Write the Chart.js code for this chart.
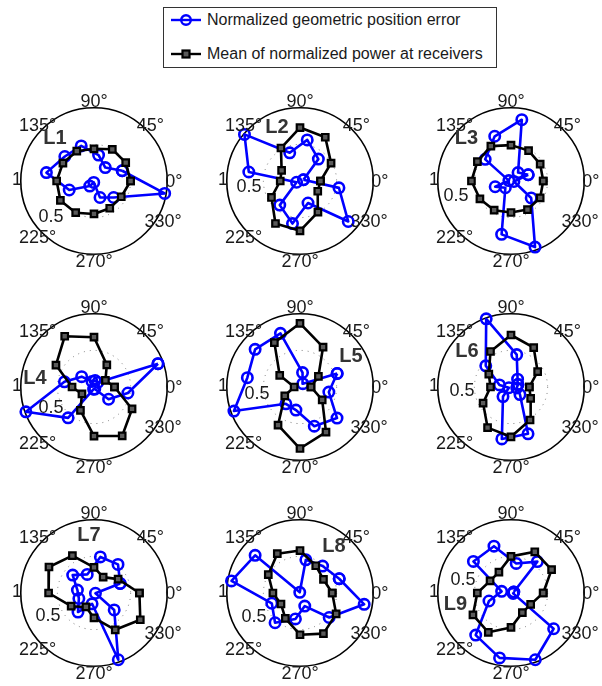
<!DOCTYPE html>
<html>
<head>
<meta charset="utf-8">
<script src="https://cdn.jsdelivr.net/npm/chart.js@4.4.1/dist/chart.umd.min.js"></script>
<style>
  html, body { margin: 0; padding: 0; background: #fff; width: 602px; height: 686px; overflow: hidden; }
  body { position: relative; font-family: "Liberation Sans", Arial, sans-serif; }
  canvas.polar { position: absolute; }
  #legend { position: absolute; left: 163px; top: 7px; width: 332px; height: 59px;
            border: 1px solid #333; background: #fff; }
  #legend .row { position: absolute; left: 0; height: 20px; display: flex; align-items: center;
                 font-size: 16px; color: #1a1a1a; white-space: nowrap; }
  #legend svg { margin-left: 6px; margin-right: 5px; }
</style>
</head>
<body>
<div id="legend"></div>
<script>
// Receiver directions (degrees) used by each series
const POWER_ANGLES = [0, 30, 60, 90, 120, 150, 180, 210, 240, 270, 300, 330];
const ERROR_ANGLES = [20, 50, 80, 110, 140, 170, 200, 230, 260, 290, 320, 350];

const SERIES_NAMES = ['Normalized geometric position error', 'Mean of normalized power at receivers'];
const LINK_NAMES = ['L1', 'L2', 'L3', 'L4', 'L5', 'L6', 'L7', 'L8', 'L9'];

// Angular tick labels and radial tick labels
const ANGLE_TICKS = [0, 45, 90, 135, 225, 270, 330];
const ANGLE_TICK_LABELS = ['0°', '45°', '90°', '135°', '225°', '270°', '330°'];
const RADIAL_TICK_LABELS = ['0.5', '1'];

// Normalized geometric position error, one value per ERROR_ANGLES entry
const errL1 = [0.41, 0.24, 0.36, 0.51, 0.52, 0.66, 0.36, 0.09, 0.02, 0.24, 0.35, 0.98];
const errL2 = [0.05, 0.39, 0.57, 0.41, 0.99, 0.71, 0.05, 0.43, 0.59, 0.32, 0.86, 0.54];
const errL3 = [0.25, 0.15, 0.85, 0.65, 0.46, 0.03, 0.23, 0.12, 0.74, 0.96, 0.36, 0.04];
const errL4 = [0.93, 0.08, 0.09, 0.08, 0.22, 0.41, 0.99, 0.55, 0.03, 0.03, 0.26, 0.47];
const errL5 = [0.54, 0.06, 0.20, 0.78, 0.80, 0.73, 0.96, 0.30, 0.32, 0.57, 0.66, 0.40];
const errL6 = [0.10, 0.14, 0.45, 0.99, 0.45, 0.16, 0.03, 0.17, 0.72, 0.68, 0.16, 0.08];
const errL7 = [0.38, 0.51, 0.50, 0.27, 0.38, 0.23, 0.22, 0.34, 0.15, 0.97, 0.36, 0.02];
const errL8 = [0.57, 0.48, 0.46, 0.01, 0.80, 0.95, 0.41, 0.53, 0.36, 0.19, 0.52, 0.89];
const errL9 = [0.04, 0.56, 0.41, 0.68, 0.67, 0.13, 0.32, 0.75, 0.90, 0.97, 0.76, 0.03];

// Mean of normalized power at receivers, one value per POWER_ANGLES entry
const powL1 = [0.50, 0.50, 0.50, 0.44, 0.47, 0.49, 0.51, 0.53, 0.50, 0.45, 0.43, 0.43];
const powL2 = [0.28, 0.49, 0.69, 0.73, 0.52, 0.29, 0.27, 0.45, 0.67, 0.68, 0.49, 0.28];
const powL3 = [0.44, 0.46, 0.48, 0.49, 0.55, 0.53, 0.54, 0.49, 0.46, 0.43, 0.45, 0.46];
const powL4 = [0.28, 0.18, 0.35, 0.68, 0.80, 0.60, 0.30, 0.19, 0.37, 0.67, 0.77, 0.60];
const powL5 = [0.15, 0.29, 0.63, 0.87, 0.70, 0.32, 0.08, 0.24, 0.60, 0.84, 0.71, 0.35];
const powL6 = [0.25, 0.42, 0.62, 0.71, 0.56, 0.35, 0.28, 0.44, 0.64, 0.68, 0.52, 0.31];
const powL7 = [0.62, 0.38, 0.25, 0.35, 0.59, 0.71, 0.62, 0.36, 0.22, 0.34, 0.58, 0.73];
const powL8 = [0.44, 0.37, 0.43, 0.58, 0.62, 0.50, 0.37, 0.30, 0.40, 0.57, 0.64, 0.57];
const powL9 = [0.44, 0.64, 0.65, 0.50, 0.33, 0.33, 0.46, 0.60, 0.62, 0.47, 0.31, 0.31];

const ERRORS = [errL1, errL2, errL3, errL4, errL5, errL6, errL7, errL8, errL9];
const POWERS = [powL1, powL2, powL3, powL4, powL5, powL6, powL7, powL8, powL9];

// ---- layout (pixels) ----
const COL_X = [94, 300, 510.5];
const ROW_Y = [180.5, 386.8, 593];
const CELL = 206;          // canvas side
const AXIS_LIMIT = 1.3;    // data units from centre to canvas edge
// offsets of the link name and of the 0.5 radial label from the plot centre
const LINK_LABEL_POS = [[-39, -42.5], [-23, -54], [-44.5, -42.5], [-59, -9], [51, -31],
                        [-44, -36], [-5, -57.5], [34, -47], [-55.5, 11.5]];
const HALF_LABEL_POS = [[-43, 36], [-51, 6], [-55, 15], [-43, 21], [-43, 7.5],
                        [-49, 4.5], [-46, 23], [-46, 24.5], [-48, -13]];

const BLUE = '#0000ff';
const BLACK = '#000000';
const SQUARE_FILL = '#5a5a5a';

// polar (deg, r) -> cartesian points, closing the curve
function toXY(angles, radii) {
  const pts = angles.map((a, i) => {
    const t = a * Math.PI / 180;
    return { x: radii[i] * Math.cos(t), y: radii[i] * Math.sin(t) };
  });
  pts.push(pts[0]);
  return pts;
}

// Draws the polar frame (outer ring, dotted 0.5 ring) and its labels
const polarFrame = {
  id: 'polarFrame',
  beforeDatasetsDraw(chart, args, opts) {
    const { ctx, scales: { x, y } } = chart;
    const cx = x.getPixelForValue(0), cy = y.getPixelForValue(0);
    const R = x.getPixelForValue(1) - cx;
    ctx.save();
    ctx.strokeStyle = '#777';
    ctx.lineWidth = 1;
    ctx.setLineDash([1, 5]);
    ctx.beginPath(); ctx.arc(cx, cy, R * 0.5, 0, Math.PI * 2); ctx.stroke();
    ctx.setLineDash([]);
    ctx.strokeStyle = '#000';
    ctx.lineWidth = 1.6;
    ctx.beginPath(); ctx.arc(cx, cy, R, 0, Math.PI * 2); ctx.stroke();
    ctx.restore();
  },
  afterDatasetsDraw(chart, args, opts) {
    const { ctx, scales: { x, y } } = chart;
    const cx = x.getPixelForValue(0), cy = y.getPixelForValue(0);
    ctx.save();
    ctx.textAlign = 'center';
    ctx.textBaseline = 'middle';
    ctx.fillStyle = '#1a1a1a';
    ctx.font = '18px "Liberation Sans", Arial, sans-serif';
    ANGLE_TICKS.forEach((a, i) => {
      const t = a * Math.PI / 180;
      ctx.fillText(ANGLE_TICK_LABELS[i], x.getPixelForValue(1.09 * Math.cos(t)),
                   y.getPixelForValue(1.09 * Math.sin(t)) + 1);
    });
    // outer radial label sits at 180 degrees
    ctx.fillText(RADIAL_TICK_LABELS[1], x.getPixelForValue(-1.05), y.getPixelForValue(0.02));
    const h = opts.half;
    ctx.fillText(RADIAL_TICK_LABELS[0], cx + h[0], cy + h[1]);
    ctx.fillStyle = '#333';
    ctx.font = 'bold 20px "Liberation Sans", Arial, sans-serif';
    const l = opts.link;
    ctx.fillText(opts.name, cx + l[0], cy + l[1]);
    ctx.restore();
  }
};

LINK_NAMES.forEach((name, k) => {
  const col = k % 3, row = Math.floor(k / 3);
  const canvas = document.createElement('canvas');
  canvas.className = 'polar';
  canvas.width = CELL; canvas.height = CELL;
  canvas.style.left = (COL_X[col] - CELL / 2) + 'px';
  canvas.style.top = (ROW_Y[row] - CELL / 2) + 'px';
  document.body.appendChild(canvas);

  new Chart(canvas.getContext('2d'), {
    type: 'scatter',
    data: {
      datasets: [
        {
          label: SERIES_NAMES[0],
          data: toXY(ERROR_ANGLES, ERRORS[k]),
          showLine: true,
          borderColor: BLUE,
          borderWidth: 2.6,
          borderJoinStyle: 'round',
          pointStyle: 'circle',
          pointRadius: 5.2,
          pointBorderWidth: 2.6,
          pointBorderColor: BLUE,
          pointBackgroundColor: 'rgba(0,0,0,0)',
          clip: false,
          order: 1
        },
        {
          label: SERIES_NAMES[1],
          data: toXY(POWER_ANGLES, POWERS[k]),
          showLine: true,
          borderColor: BLACK,
          borderWidth: 2.6,
          borderJoinStyle: 'round',
          pointStyle: 'rect',
          pointRadius: 4.6,
          pointBorderWidth: 2.2,
          pointBorderColor: BLACK,
          pointBackgroundColor: SQUARE_FILL,
          clip: false,
          order: 0
        }
      ]
    },
    options: {
      responsive: false,
      maintainAspectRatio: false,
      animation: false,
      events: [],
      layout: { padding: 0 },
      scales: {
        x: { type: 'linear', min: -AXIS_LIMIT, max: AXIS_LIMIT, display: false },
        y: { type: 'linear', min: -AXIS_LIMIT, max: AXIS_LIMIT, display: false }
      },
      plugins: {
        legend: { display: false },
        tooltip: { enabled: false },
        polarFrame: { name: name, link: LINK_LABEL_POS[k], half: HALF_LABEL_POS[k] }
      }
    },
    plugins: [polarFrame]
  });
});

// Legend box
const legend = document.getElementById('legend');
const SYMBOLS = [
  '<svg width="32" height="14"><line x1="1" y1="7" x2="31" y2="7" stroke="' + BLUE + '" stroke-width="2.4"/>' +
  '<circle cx="16" cy="7" r="4.8" fill="none" stroke="' + BLUE + '" stroke-width="2.4"/></svg>',
  '<svg width="32" height="14"><line x1="1" y1="7" x2="31" y2="7" stroke="' + BLACK + '" stroke-width="2.4"/>' +
  '<rect x="12.5" y="3.5" width="7" height="7" fill="' + SQUARE_FILL + '" stroke="' + BLACK + '" stroke-width="2.2"/></svg>'
];
const LEGEND_ROW_TOP = [2, 36];
SERIES_NAMES.forEach((s, i) => {
  const row = document.createElement('div');
  row.className = 'row';
  row.style.top = LEGEND_ROW_TOP[i] + 'px';
  row.innerHTML = SYMBOLS[i] + '<span>' + s + '</span>';
  legend.appendChild(row);
});
</script>
</body>
</html>
